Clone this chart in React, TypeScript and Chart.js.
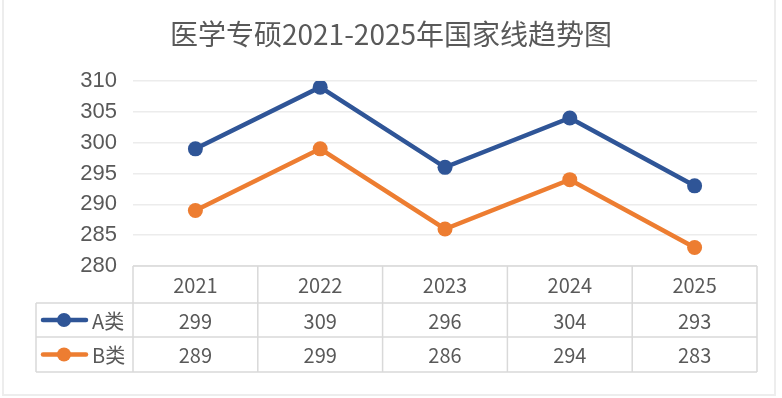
import React, { useEffect, useRef } from "react";
import { Chart, registerables } from "chart.js";

Chart.register(...registerables);

const TITLE = "医学专硕2021-2025年国家线趋势图";
const YEARS = ["2021", "2022", "2023", "2024", "2025"];
const SERIES_NAMES = ["A类", "B类"];
const A_VALUES = [299, 309, 296, 304, 293];
const B_VALUES = [289, 299, 286, 294, 283];
const Y_MIN = 280;
const Y_MAX = 310;
const Y_STEP = 5;

const BLUE = "#2F5597";
const ORANGE = "#ED7D31";
const TEXT = "#595959";
const TABLE_LINE = "#d9d9d9";
const CJK = '"Noto Sans CJK SC", "Noto Sans", sans-serif';

const framePlugin = {
  id: "frame",
  beforeDraw(chart: any) {
    const { ctx, width, height } = chart;
    ctx.save();
    ctx.fillStyle = "#ffffff";
    ctx.fillRect(0, 0, width, height);
    ctx.strokeStyle = "#ededed";
    ctx.lineWidth = 2;
    ctx.beginPath();
    ctx.moveTo(3, 0);
    ctx.lineTo(3, 395);
    ctx.lineTo(775, 395);
    ctx.lineTo(775, 0);
    ctx.stroke();
    ctx.restore();
  },
};

const tablePlugin = {
  id: "dataTable",
  afterDraw(chart: any) {
    const { ctx, chartArea } = chart;
    const xs = chart.scales.x;
    const n = YEARS.length;
    const step = xs.getPixelForValue(1) - xs.getPixelForValue(0);
    const left = xs.getPixelForValue(0) - step / 2;
    const right = xs.getPixelForValue(n - 1) + step / 2;
    const top = chartArea.bottom;
    const rowH = [37, 34, 35];
    const rowY = [top, top + rowH[0], top + rowH[0] + rowH[1], top + rowH[0] + rowH[1] + rowH[2]];
    const legendLeft = 36;

    ctx.save();
    ctx.strokeStyle = TABLE_LINE;
    ctx.lineWidth = 1.5;
    ctx.beginPath();
    ctx.moveTo(left, rowY[0]);
    ctx.lineTo(right, rowY[0]);
    for (let r = 1; r < rowY.length; r++) {
      ctx.moveTo(legendLeft, rowY[r]);
      ctx.lineTo(right, rowY[r]);
    }
    for (let i = 0; i <= n; i++) {
      const x = left + step * i;
      ctx.moveTo(x, rowY[0]);
      ctx.lineTo(x, rowY[3]);
    }
    ctx.moveTo(legendLeft, rowY[1]);
    ctx.lineTo(legendLeft, rowY[3]);
    ctx.stroke();

    ctx.fillStyle = TEXT;
    ctx.font = `20px ${CJK}`;
    ctx.textAlign = "center";
    ctx.textBaseline = "middle";
    YEARS.forEach((y, i) => {
      ctx.fillText(y, xs.getPixelForValue(i), (rowY[0] + rowY[1]) / 2 + 1);
    });
    chart.data.datasets.forEach((ds: any, d: number) => {
      const cy = (rowY[d + 1] + rowY[d + 2]) / 2;
      ds.data.forEach((v: number, i: number) => {
        ctx.fillStyle = TEXT;
        ctx.fillText(String(v), xs.getPixelForValue(i), cy + 1);
      });
      ctx.strokeStyle = ds.borderColor;
      ctx.lineWidth = 4.5;
      ctx.lineCap = "round";
      ctx.beginPath();
      ctx.moveTo(43, cy);
      ctx.lineTo(86, cy);
      ctx.stroke();
      ctx.fillStyle = ds.borderColor;
      ctx.beginPath();
      ctx.arc(64, cy, 7, 0, Math.PI * 2);
      ctx.fill();
      ctx.fillStyle = TEXT;
      ctx.textAlign = "left";
      ctx.fillText(ds.label, 92, cy + 1);
      ctx.textAlign = "center";
    });
    ctx.restore();
  },
};

export default function App() {
  const ref = useRef<HTMLCanvasElement>(null);
  useEffect(() => {
    if (!ref.current) return;
    const chart = new Chart(ref.current, {
      type: "line",
      data: {
        labels: YEARS,
        datasets: [
          {
            label: SERIES_NAMES[0],
            data: A_VALUES,
            borderColor: BLUE,
            backgroundColor: BLUE,
            borderWidth: 4.5,
            pointRadius: 7.5,
            pointBorderWidth: 0,
            pointBackgroundColor: BLUE,
          },
          {
            label: SERIES_NAMES[1],
            data: B_VALUES,
            borderColor: ORANGE,
            backgroundColor: ORANGE,
            borderWidth: 4.5,
            pointRadius: 7.5,
            pointBorderWidth: 0,
            pointBackgroundColor: ORANGE,
          },
        ],
      },
      options: {
        animation: false,
        responsive: false,
        layout: { padding: { top: 0, right: 25, bottom: 132, left: 25 } },
        plugins: {
          legend: { display: false },
          tooltip: { enabled: false },
          title: {
            display: true,
            text: TITLE,
            color: TEXT,
            font: { family: CJK, size: 28, weight: "normal" },
            padding: { top: 18, bottom: 29.4 },
          },
        },
        scales: {
          x: { type: "category", offset: true, display: false },
          y: {
            min: Y_MIN,
            max: Y_MAX,
            ticks: {
              stepSize: Y_STEP,
              color: TEXT,
              padding: 16,
              font: { family: '"Liberation Sans", Arial, sans-serif', size: 22 },
            },
            grid: { color: "#ececec", lineWidth: 1.5, drawTicks: false },
            border: { display: false },
            afterFit: (s: any) => {
              s.width = 108;
            },
          },
        },
      },
      plugins: [framePlugin, tablePlugin],
    });
    return () => chart.destroy();
  }, []);
  return (
    <div style={{ position: "fixed", left: 0, top: 0, width: 782, height: 398 }}>
      <canvas ref={ref} width={782} height={398} style={{ width: 782, height: 398 }} />
    </div>
  );
}
